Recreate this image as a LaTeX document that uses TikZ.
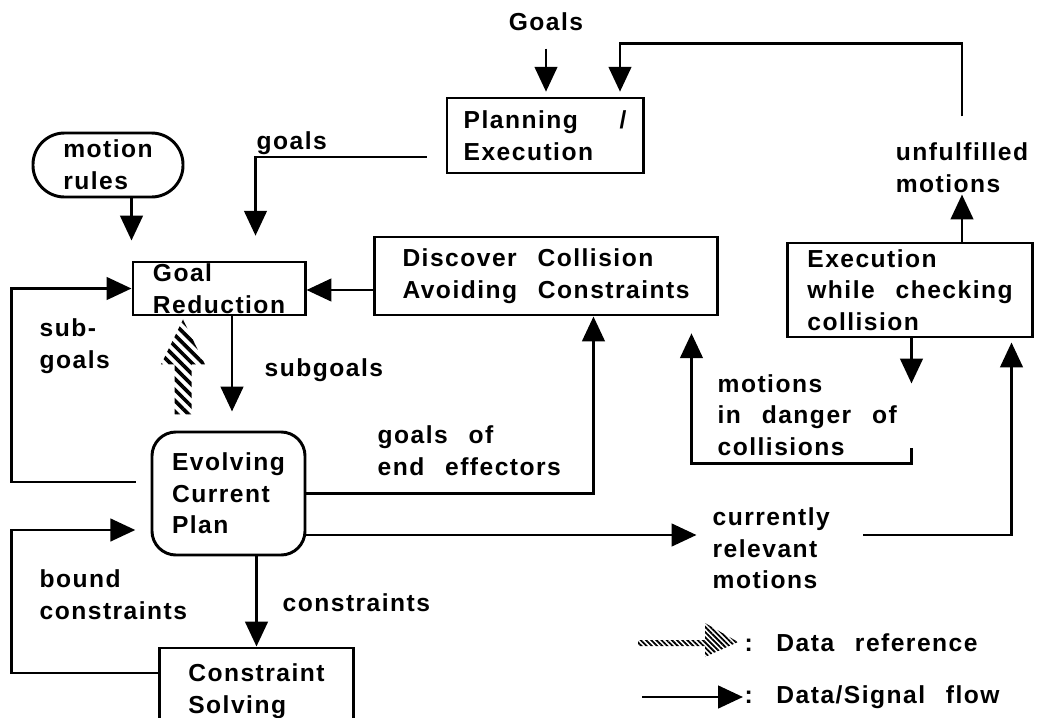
\documentclass[tikz,border=0pt]{standalone}
\usepackage{fontspec}
\setmainfont{Liberation Sans Bold}[LetterSpace=6,WordSpace=2.5]
\usepackage{tikz}
\usetikzlibrary{calc}
\usetikzlibrary{arrows.meta}
\usetikzlibrary{patterns.meta}
\tikzstyle{flow}=[->,>={Triangle[length=6.2mm,width=5.6mm]},line width=2.1pt]
\tikzstyle{blk}=[draw,line width=2.1pt,align=left,inner sep=0pt]
\tikzstyle{lbl}=[align=left,inner sep=1pt]
\tikzstyle{dataref}=[pattern={Lines[angle=-45,distance=5.5pt,line width=2.6pt]}]
\tikzstyle{datareflg}=[pattern={Lines[angle=-45,distance=2.6pt,line width=1.3pt]}]

\begin{document}
\begin{tikzpicture}[x=0.025cm,y=-0.025cm,font=\fontsize{17.5}{22.5}\selectfont]
\useasboundingbox[fill=white] (0,0) rectangle (1042,718);
% boxes
\node[blk,minimum width=4.9cm,minimum height=1.875cm] (plan) at (545,135.5) {Planning \ /\\Execution};
\node[blk,rounded corners=7.9mm,minimum width=3.75cm,minimum height=1.6cm] (mr) at (108,165) {motion\\rules};
\node[blk,minimum width=4.3cm,minimum height=1.325cm] (gr) at (219,288.5) {Goal\\Reduction};
\node[blk,minimum width=8.55cm,minimum height=1.95cm] (disc) at (546,276) {Discover Collision\\Avoiding Constraints};
\node[blk,minimum width=6.1cm,minimum height=2.35cm] (exec) at (910,290) {Execution\\while checking\\collision};
\node[blk,rounded corners=6mm,minimum width=3.825cm,minimum height=3.075cm] (ev) at (228.5,493.5) {Evolving\\Current\\Plan};
\node[blk,minimum width=4.825cm,minimum height=2.175cm] (cs) at (256.5,691.5) {Constraint\\Solving};
% labels
\node[lbl] (gls) at (546,22) {Goals};
\node[lbl] (unf) at (962,168) {unfulfilled\\motions};
\node[lbl,anchor=west] (glsl) at (255,143) {goals};
\node[lbl,anchor=west] (subg) at (38,346.5) {sub-\\goals};
\node[lbl,anchor=west] (subgl) at (263,370) {subgoals};
\node[lbl,anchor=west] (eff) at (376,451) {goals of\\end effectors};
\node[lbl,anchor=west] (dgr) at (716,415) {motions\\in danger of\\collisions};
\node[lbl,anchor=west] (cur) at (711,548.5) {currently\\relevant\\motions};
\node[lbl,anchor=west] (bnd) at (38,594.5) {bound\\constraints};
\node[lbl,anchor=west] (cns) at (281,603) {constraints};
\node[lbl,anchor=west] (lgref) at (743,643) {: Data reference};
\node[lbl,anchor=west] (lgflow) at (743,697) {: Data/Signal flow};
% connectors
\draw[flow,shorten <=4mm,shorten >=1.2mm] (gls.south) -- (gls.south |- plan.north);
\coordinate (fb) at ($(plan.north)+(75,0)$);
\draw[flow,shorten >=1.2mm] ($(unf.north)+(0,-25)$) |- ($(fb)+(0,-53)$) -- (fb);
\draw[flow] (unf.south |- exec.north) -- (unf.south);
\draw[flow,shorten >=5mm] (mr.south -| gr.west) -- (gr.north west);
\draw[flow,shorten <=4.7mm,shorten >=6.2mm] ($(plan.west)+(0,21.5)$) -| ($(gr.north west)+(124,0)$);
\draw[flow] ($(gr.east -| disc.west)+(0,1.5)$) -- ($(gr.east)+(0,1.5)$);
\draw[flow] ($(ev.west)+(-15,-11.5)$) -- ++(-124,0) |- (gr.west);
\draw[flow,shorten >=3.8mm] ($(cs.west)+(0,-18.5)$) -- ++(-147,0) |- ($(ev.west)+(0,36.5)$);
\draw[flow] ($(gr.south)+(13,0)$) -- ++(0,95);
\draw[flow] (ev.east) -| ($(disc.south west)+(220,0)$);
\draw[flow] ($(ev.east)+(0,41.5)$) -- ++(390,0);
\draw[flow,shorten >=1mm] ($(cur.east)+(32,-13.5)$) -| ($(exec.south east)+(-22,0)$);
\draw[flow] ($(exec.south west)+(125,0)$) -- ++(0,45);
\draw[flow,shorten >=4.2mm] ($(exec.south west)+(125,110)$) -- ++(0,15) -| ($(disc.south west)+(318,0)$);
\draw[flow] (cs.north |- ev.south) -- (cs.north);
% data reference
\path[dataref] ($(gr.south)+(-36,3)$) -- ++(22,45) -- ++(-13.5,0) -- ++(0,50) -- ++(-17,0) -- ++(0,-50) -- ++(-13.5,0) -- cycle;
% legend
\path[datareflg] ($(lgref.west)+(-105,-3)$) -- ++(67,0) -- ++(0,-17) -- ++(33,19) -- ++(-33,15) -- ++(0,-11) -- ++(-67,0) -- cycle;
\draw[flow] ($(lgflow.west)+(-101,0)$) -- (lgflow.west);
\end{tikzpicture}
\end{document}
